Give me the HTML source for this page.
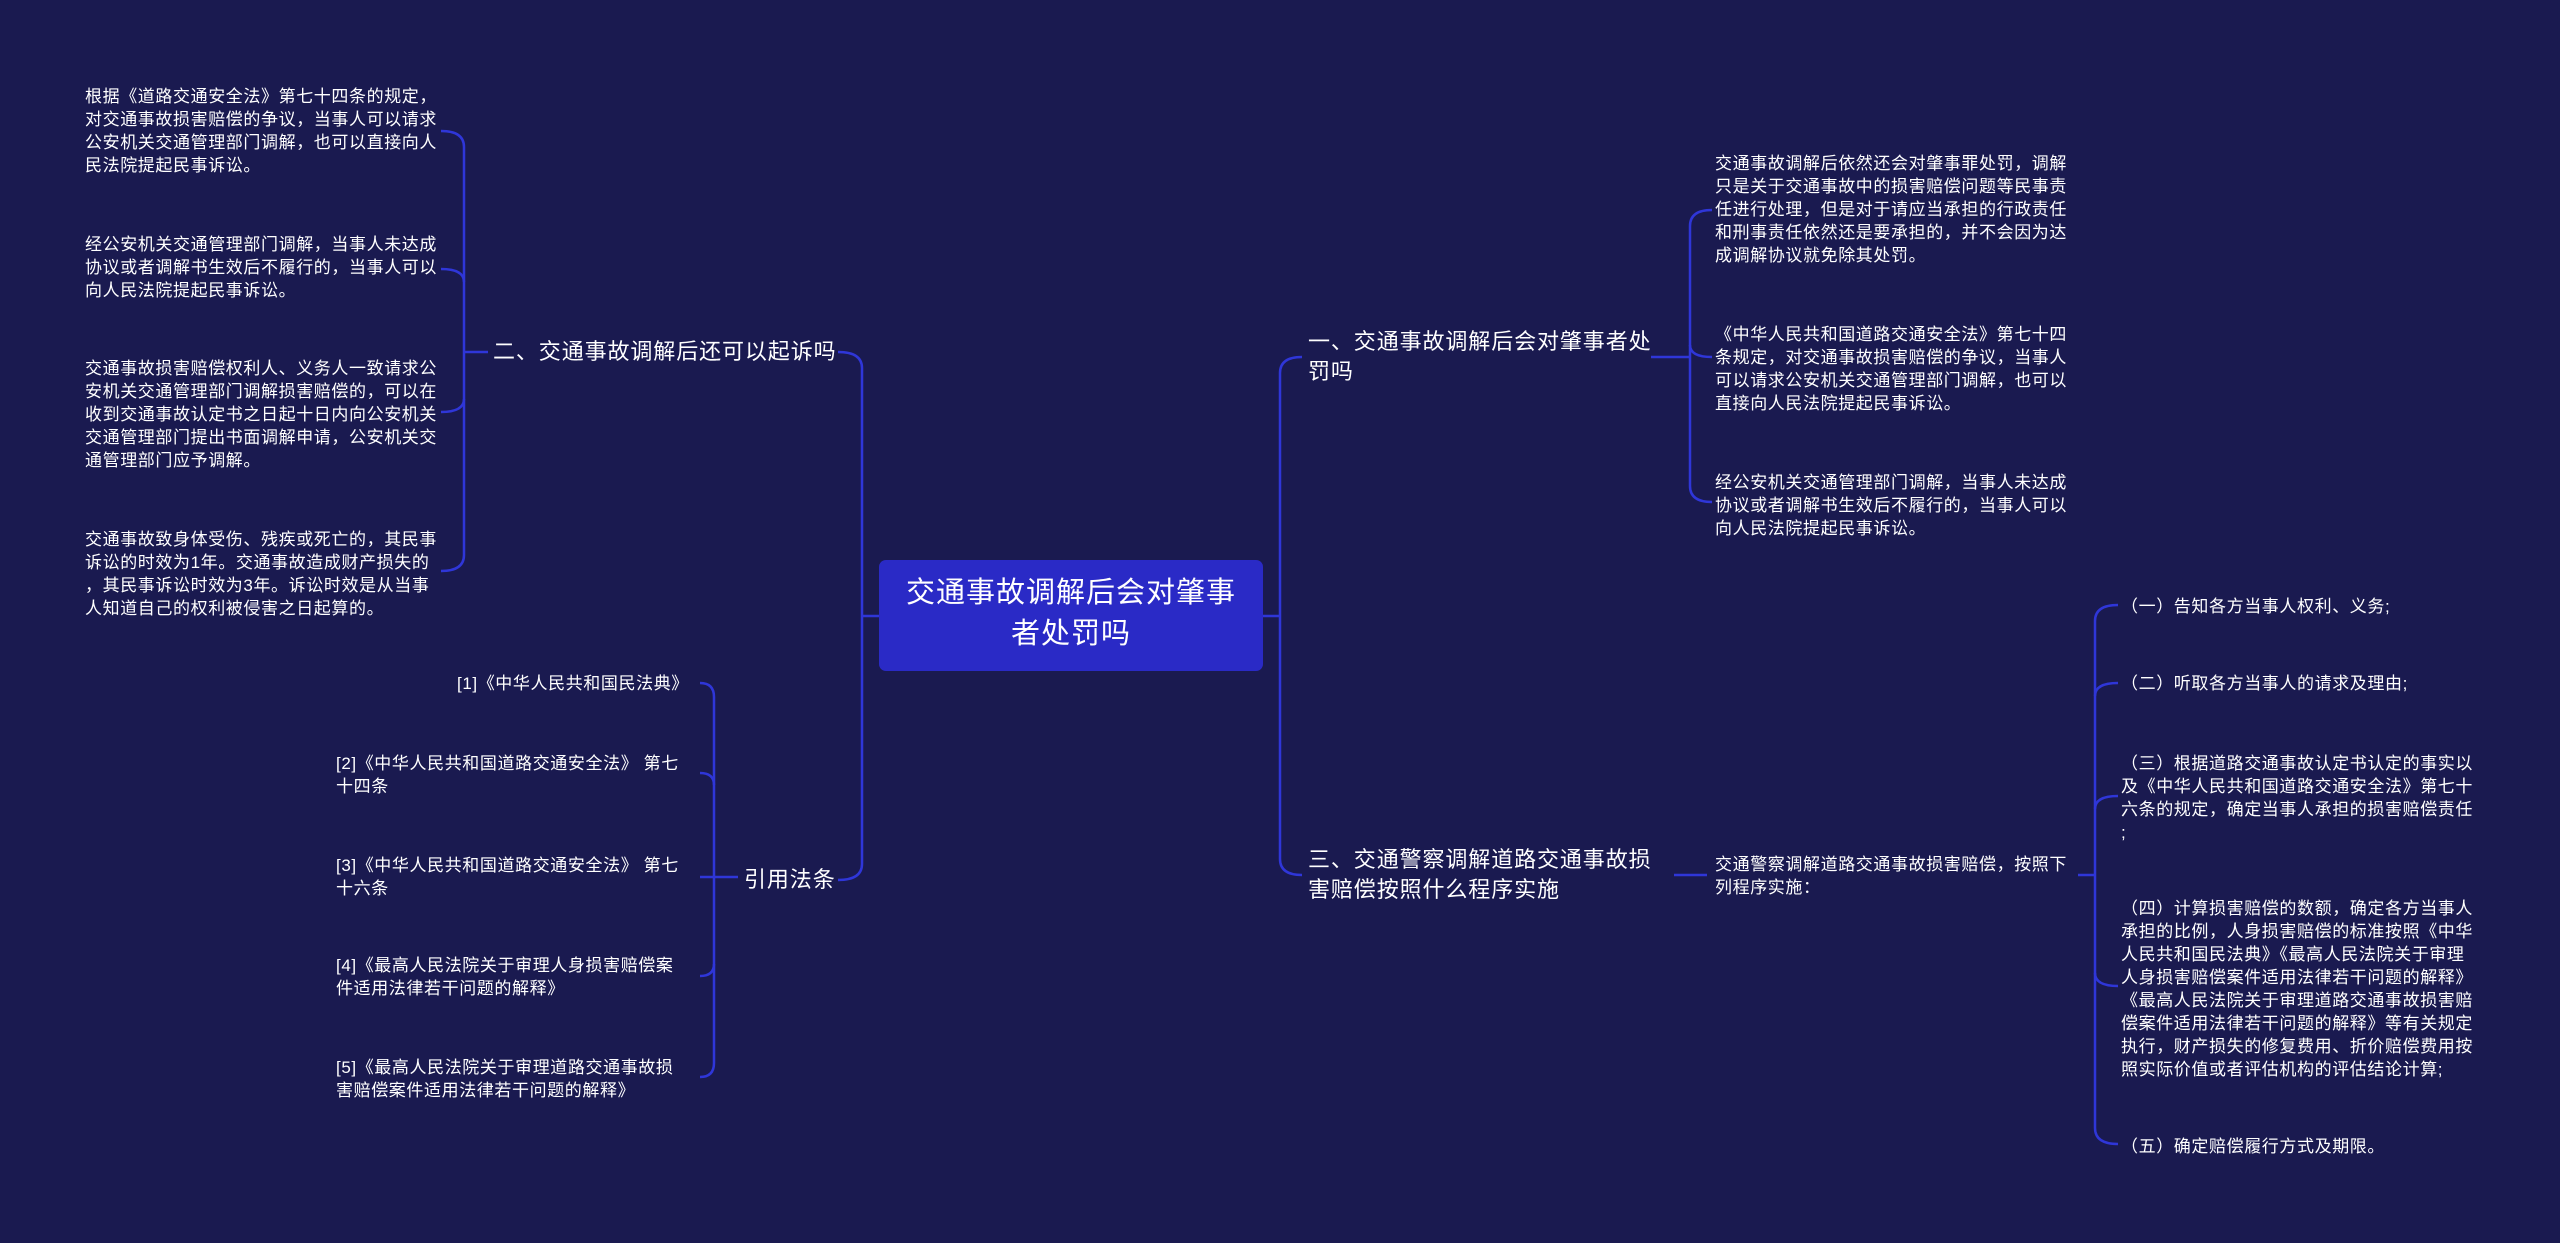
<!DOCTYPE html>
<html><head><meta charset="utf-8"><style>
html,body{margin:0;padding:0}
body{width:2560px;height:1243px;background:#1a1a50;position:relative;overflow:hidden;font-family:"Liberation Sans","Noto Sans CJK SC",sans-serif;color:#fff}
.t{position:absolute;font-size:17px;line-height:23px;white-space:nowrap;letter-spacing:0.6px}
.b{position:absolute;font-size:22px;line-height:30px;white-space:nowrap;letter-spacing:0.9px}
svg{position:absolute;left:0;top:0}
</style></head><body>
<svg width="2560" height="1243" fill="none" stroke="#2f36d8" stroke-width="2.5">
<rect x="879" y="560" width="384" height="111" rx="7" fill="#2a2ac6" stroke="none"/>
<path d="M838 352 Q862 352 862 368 L862 864 Q862 880 838 880"/>
<path d="M862 616 L879 616"/>
<path d="M1302 357 Q1280 357 1280 373 L1280 859 Q1280 875 1302 875"/>
<path d="M1263 616 L1280 616"/>
<path d="M441 131 Q464 131 464 147 L464 555 Q464 571 441 571"/>
<path d="M441 269 Q464 269 464 282"/><path d="M441 412 Q464 412 464 399"/>
<path d="M464 352 L488 352"/>
<path d="M700 683 Q714 683 714 697 L714 1063 Q714 1077 700 1077"/>
<path d="M700 773 Q714 773 714 785"/><path d="M700 877 L738 877"/><path d="M700 976 Q714 976 714 964"/>
<path d="M1651 357 L1690 357"/>
<path d="M1712 210 Q1690 210 1690 226 L1690 486 Q1690 502 1712 502"/>
<path d="M1712 357 Q1690 357 1690 345"/>
<path d="M1674 875 L1707 875"/>
<path d="M2078 875 L2095 875"/>
<path d="M2118 605 Q2095 605 2095 621 L2095 1128 Q2095 1144 2118 1144"/>
<path d="M2118 683 Q2095 683 2095 696"/><path d="M2118 796 Q2095 796 2095 809"/><path d="M2118 986 Q2095 986 2095 973"/>
</svg>

<div style="position:absolute;left:879px;top:573px;width:384px;text-align:center;font-size:29px;line-height:41px;letter-spacing:1px">交通事故调解后会对肇事<br>者处罚吗</div>

<div class="b" style="left:493px;top:337px">二、交通事故调解后还可以起诉吗</div>
<div class="b" style="left:744px;top:865px">引用法条</div>
<div class="b" style="left:1308px;top:327px">一、交通事故调解后会对肇事者处<br>罚吗</div>
<div class="b" style="left:1308px;top:845px">三、交通警察调解道路交通事故损<br>害赔偿按照什么程序实施</div>

<div class="t" style="left:85px;top:85px">根据《道路交通安全法》第七十四条的规定，<br>对交通事故损害赔偿的争议，当事人可以请求<br>公安机关交通管理部门调解，也可以直接向人<br>民法院提起民事诉讼。</div>
<div class="t" style="left:85px;top:233px">经公安机关交通管理部门调解，当事人未达成<br>协议或者调解书生效后不履行的，当事人可以<br>向人民法院提起民事诉讼。</div>
<div class="t" style="left:85px;top:357px">交通事故损害赔偿权利人、义务人一致请求公<br>安机关交通管理部门调解损害赔偿的，可以在<br>收到交通事故认定书之日起十日内向公安机关<br>交通管理部门提出书面调解申请，公安机关交<br>通管理部门应予调解。</div>
<div class="t" style="left:85px;top:528px">交通事故致身体受伤、残疾或死亡的，其民事<br>诉讼的时效为1年。交通事故造成财产损失的<br>，其民事诉讼时效为3年。诉讼时效是从当事<br>人知道自己的权利被侵害之日起算的。</div>

<div class="t" style="left:457px;top:672px">[1]《中华人民共和国民法典》</div>
<div class="t" style="left:336px;top:752px">[2]《中华人民共和国道路交通安全法》 第七<br>十四条</div>
<div class="t" style="left:336px;top:854px">[3]《中华人民共和国道路交通安全法》 第七<br>十六条</div>
<div class="t" style="left:336px;top:954px">[4]《最高人民法院关于审理人身损害赔偿案<br>件适用法律若干问题的解释》</div>
<div class="t" style="left:336px;top:1056px">[5]《最高人民法院关于审理道路交通事故损<br>害赔偿案件适用法律若干问题的解释》</div>

<div class="t" style="left:1715px;top:152px">交通事故调解后依然还会对肇事罪处罚，调解<br>只是关于交通事故中的损害赔偿问题等民事责<br>任进行处理，但是对于请应当承担的行政责任<br>和刑事责任依然还是要承担的，并不会因为达<br>成调解协议就免除其处罚。</div>
<div class="t" style="left:1715px;top:323px">《中华人民共和国道路交通安全法》第七十四<br>条规定，对交通事故损害赔偿的争议，当事人<br>可以请求公安机关交通管理部门调解，也可以<br>直接向人民法院提起民事诉讼。</div>
<div class="t" style="left:1715px;top:471px">经公安机关交通管理部门调解，当事人未达成<br>协议或者调解书生效后不履行的，当事人可以<br>向人民法院提起民事诉讼。</div>

<div class="t" style="left:1715px;top:853px">交通警察调解道路交通事故损害赔偿，按照下<br>列程序实施：</div>

<div class="t" style="left:2121px;top:595px">（一）告知各方当事人权利、义务;</div>
<div class="t" style="left:2121px;top:672px">（二）听取各方当事人的请求及理由;</div>
<div class="t" style="left:2121px;top:752px">（三）根据道路交通事故认定书认定的事实以<br>及《中华人民共和国道路交通安全法》第七十<br>六条的规定，确定当事人承担的损害赔偿责任<br>;</div>
<div class="t" style="left:2121px;top:897px">（四）计算损害赔偿的数额，确定各方当事人<br>承担的比例，人身损害赔偿的标准按照《中华<br>人民共和国民法典》《最高人民法院关于审理<br>人身损害赔偿案件适用法律若干问题的解释》<br>《最高人民法院关于审理道路交通事故损害赔<br>偿案件适用法律若干问题的解释》等有关规定<br>执行，财产损失的修复费用、折价赔偿费用按<br>照实际价值或者评估机构的评估结论计算;</div>
<div class="t" style="left:2121px;top:1135px">（五）确定赔偿履行方式及期限。</div>
</body></html>
